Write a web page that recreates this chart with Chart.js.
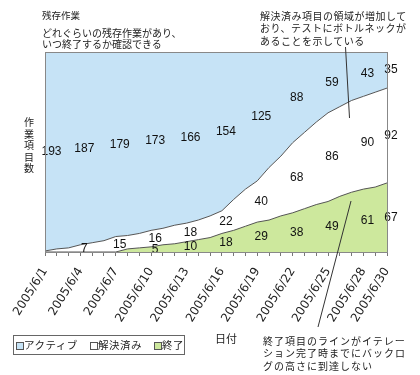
<!DOCTYPE html>
<html lang="ja">
<head>
<meta charset="utf-8">
<script src="https://cdn.jsdelivr.net/npm/chart.js"></script>
<style>
  html,body{margin:0;padding:0;background:#fff;}
  #wrap{position:relative;width:420px;height:375px;overflow:hidden;font-family:"Noto Sans CJK JP","Noto Sans",sans-serif;color:#222;}
  #c{position:absolute;left:0;top:0;}
  .t{position:absolute;white-space:nowrap;font-size:10px;}
  #legend{position:absolute;left:13px;top:335px;width:172px;height:20px;border:1px solid #666;box-sizing:border-box;font-size:10.5px;letter-spacing:0.5px;}
  .li{position:absolute;top:0;line-height:18px;white-space:nowrap;}
  .sw{display:inline-block;width:8px;height:8px;border:1px solid #555;margin-right:0px;vertical-align:-1px;box-sizing:border-box;}
</style>
</head>
<body>
<div id="wrap">
  <canvas id="c" width="420" height="375"></canvas>
  <div class="t" style="left:42px;top:9px;line-height:12px;font-size:9.5px;">残存作業</div>
  <div class="t" style="left:42px;top:27px;line-height:11px;">どれぐらいの残存作業があり、<br>いつ終了するか確認できる</div>
  <div class="t" style="left:260px;top:10px;line-height:12.3px;letter-spacing:0.5px;">解決済み項目の領域が増加して<br>おり、テストにボトルネックが<br>あることを示している</div>
  <div class="t" style="left:24px;top:116px;line-height:11.5px;width:10px;text-align:center;">作<br>業<br>項<br>目<br>数</div>
  <div class="t" style="left:215px;top:331px;line-height:14px;font-size:11px;">日付</div>
  <div class="t" style="left:263px;top:334.5px;line-height:12.8px;letter-spacing:1px;">終了項目のラインがイテレー<br>ション完了時までにバックロ<br>グの高さに到達しない</div>
  <div id="legend">
    <span class="li" style="left:2px;"><span class="sw" style="background:#C6E3F6"></span>アクティブ</span>
    <span class="li" style="left:76px;"><span class="sw" style="background:#fff"></span>解決済み</span>
    <span class="li" style="left:140px;"><span class="sw" style="background:#CDE89D"></span>終了</span>
  </div>
</div>
<script>
// Categories (each day)
const dates = ['2005/6/1','2005/6/2','2005/6/3','2005/6/4','2005/6/5','2005/6/6','2005/6/7','2005/6/8','2005/6/9','2005/6/10',
  '2005/6/11','2005/6/12','2005/6/13','2005/6/14','2005/6/15','2005/6/16','2005/6/17','2005/6/18','2005/6/19','2005/6/20',
  '2005/6/21','2005/6/22','2005/6/23','2005/6/24','2005/6/25','2005/6/26','2005/6/27','2005/6/28','2005/6/29','2005/6/30'];
// Tick labels shown on the axis (also the dates that carry value labels)
const tickLabels = ['2005/6/1','2005/6/4','2005/6/7','2005/6/10','2005/6/13','2005/6/16','2005/6/19','2005/6/22','2005/6/25','2005/6/28','2005/6/30'];
// Series
const done =     [0,0,0,0,0,0,0,3,4,5,7,8,10,12,14,18,21,25,29,31,35,38,42,46,49,54,58,61,63,67];
const resolved = [1,3,4,7,9,11,15,13,14,16,16,18,18,19,21,22,30,36,40,51,58,68,74,80,86,87,89,90,92,92];
const active =   [193,191,190,187,185,183,179,178,176,173,171,168,166,163,159,154,143,133,125,112,101,88,78,68,59,53,47,43,39,35];
const seriesNames = ['終了','解決済み','アクティブ'];
const yMax = 194;

const lineColor = '#555';
const valueLabels = {
  id:'valueLabels',
  afterDatasetsDraw(chart){
    const {ctx, chartArea, scales:{x,y}} = chart;
    ctx.save();
    ctx.font = '12px "Liberation Sans", Arial, sans-serif';
    ctx.fillStyle = '#111';
    ctx.textAlign = 'center';
    ctx.textBaseline = 'middle';
    tickLabels.forEach(lab => {
      const i = dates.indexOf(lab);
      const px = Math.max(x.getPixelForValue(i) + 4, chartArea.left + 6.5);
      const d = done[i], r = resolved[i], a = active[i];
      if (d > 0) ctx.fillText(String(d), px, (y.getPixelForValue(0) + y.getPixelForValue(d)) / 2);
      if (i > 0) ctx.fillText(String(r), px, (y.getPixelForValue(d) + y.getPixelForValue(d + r)) / 2);
      ctx.fillText(String(a), px, (y.getPixelForValue(d + r) + y.getPixelForValue(d + r + a)) / 2);
    });
    ctx.restore();
  },
  afterDraw(chart){
    const {ctx, chartArea:ca} = chart;
    ctx.save();
    ctx.strokeStyle = '#888';
    ctx.lineWidth = 1;
    ctx.strokeRect(Math.round(ca.left)+0.5, Math.round(ca.top)+0.5, Math.round(ca.right-ca.left), Math.round(ca.bottom-ca.top));
    // annotation leader lines
    ctx.strokeStyle = '#333';
    ctx.beginPath();
    ctx.moveTo(345.5,47); ctx.lineTo(349.5,118);
    ctx.moveTo(351,201); ctx.lineTo(318,327);
    ctx.stroke();
    ctx.restore();
  }
};

new Chart(document.getElementById('c'), {
  type:'line',
  data:{
    labels: dates,
    datasets:[
      {label:seriesNames[0], data:done, fill:'origin', backgroundColor:'#CDE89D', borderColor:lineColor, borderWidth:1, pointRadius:0, tension:0},
      {label:seriesNames[1], data:resolved, fill:'-1', backgroundColor:'#FFFFFF', borderColor:lineColor, borderWidth:1, pointRadius:0, tension:0},
      {label:seriesNames[2], data:active, fill:'-1', backgroundColor:'#C6E3F6', borderColor:'rgba(0,0,0,0)', borderWidth:0, pointRadius:0, tension:0}
    ]
  },
  options:{
    responsive:false,
    animation:false,
    layout:{padding:{left:45, right:33, top:52, bottom:0}},
    plugins:{legend:{display:false}, tooltip:{enabled:false}},
    scales:{
      x:{
        offset:false,
        grid:{drawOnChartArea:false, drawTicks:true, tickLength:4, color:'#777'},
        border:{color:'#888'},
        ticks:{
          autoSkip:false, maxRotation:58, minRotation:58, padding:9,
          color:'#222',
          font:{size:12, family:'"DejaVu Sans", Arial, sans-serif'},
          callback:(v,i)=> tickLabels.includes(dates[i]) ? dates[i] : ''
        },
        afterFit:(s)=>{ s.height = 123; }
      },
      y:{stacked:true, display:false, min:0, max:yMax}
    }
  },
  plugins:[valueLabels]
});
</script>
</body>
</html>
